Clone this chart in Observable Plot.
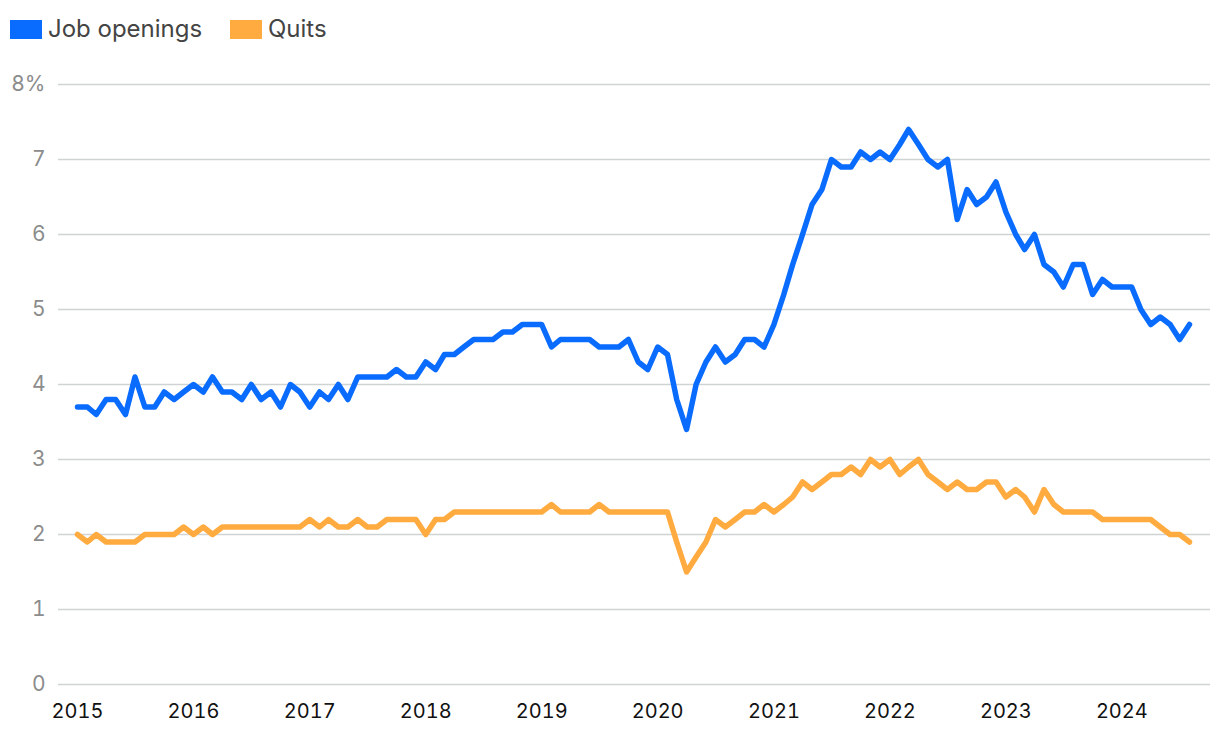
<!DOCTYPE html>
<html>
<head>
<meta charset="utf-8">
<script src="https://cdn.jsdelivr.net/npm/d3@7"></script>
<script src="https://cdn.jsdelivr.net/npm/@observablehq/plot@0.6"></script>
<style>
  html, body { margin: 0; padding: 0; background: #fff; }
  body { width: 1220px; height: 734px; overflow: hidden; font-family: Inter, "Noto Sans", sans-serif; }
  #legend { position: relative; height: 60px; }
  .item { position: absolute; top: 0; display: flex; align-items: flex-start; height: 60px; }
  .sw { width: 32px; height: 19px; margin-right: 6px; margin-top: 20px; }
  .lab { font-size: 24px; color: #444; margin-top: 14px; }
</style>
</head>
<body>
<div id="legend"></div>
<div id="chart"></div>
<script>
const startYear = 2015;
const startMonth = 0;
const jobOpenings = [
  3.7,3.7,3.6,3.8,3.8,3.6,4.1,3.7,3.7,3.9,3.8,3.9,
  4.0,3.9,4.1,3.9,3.9,3.8,4.0,3.8,3.9,3.7,4.0,3.9,
  3.7,3.9,3.8,4.0,3.8,4.1,4.1,4.1,4.1,4.2,4.1,4.1,
  4.3,4.2,4.4,4.4,4.5,4.6,4.6,4.6,4.7,4.7,4.8,4.8,
  4.8,4.5,4.6,4.6,4.6,4.6,4.5,4.5,4.5,4.6,4.3,4.2,
  4.5,4.4,3.8,3.4,4.0,4.3,4.5,4.3,4.4,4.6,4.6,4.5,
  4.8,5.2,5.6,6.0,6.4,6.6,7.0,6.9,6.9,7.1,7.0,7.1,
  7.0,7.2,7.4,7.2,7.0,6.9,7.0,6.2,6.6,6.4,6.5,6.7,
  6.3,6.0,5.8,6.0,5.6,5.5,5.3,5.6,5.6,5.2,5.4,5.3,
  5.3,5.3,5.0,4.8,4.9,4.8,4.6,4.8
];
const quits = [
  2.0,1.9,2.0,1.9,1.9,1.9,1.9,2.0,2.0,2.0,2.0,2.1,
  2.0,2.1,2.0,2.1,2.1,2.1,2.1,2.1,2.1,2.1,2.1,2.1,
  2.2,2.1,2.2,2.1,2.1,2.2,2.1,2.1,2.2,2.2,2.2,2.2,
  2.0,2.2,2.2,2.3,2.3,2.3,2.3,2.3,2.3,2.3,2.3,2.3,
  2.3,2.4,2.3,2.3,2.3,2.3,2.4,2.3,2.3,2.3,2.3,2.3,
  2.3,2.3,1.9,1.5,1.7,1.9,2.2,2.1,2.2,2.3,2.3,2.4,
  2.3,2.4,2.5,2.7,2.6,2.7,2.8,2.8,2.9,2.8,3.0,2.9,
  3.0,2.8,2.9,3.0,2.8,2.7,2.6,2.7,2.6,2.6,2.7,2.7,
  2.5,2.6,2.5,2.3,2.6,2.4,2.3,2.3,2.3,2.3,2.2,2.2,
  2.2,2.2,2.2,2.2,2.1,2.0,2.0,1.9
];
const seriesNames = ["Job openings", "Quits"];
const seriesColors = ["#0a6cff", "#ffab40"];
const yTicks = [0,1,2,3,4,5,6,7,8];
const yTickLabels = ["0","1","2","3","4","5","6","7","8%"];
const xTickYears = [2015,2016,2017,2018,2019,2020,2021,2022,2023,2024];

const monthDate = i => new Date(Date.UTC(startYear, startMonth + i, 1));
const rows = [];
jobOpenings.forEach((v, i) => rows.push({date: monthDate(i), value: v, series: seriesNames[0]}));
quits.forEach((v, i) => rows.push({date: monthDate(i), value: v, series: seriesNames[1]}));
const xTicks = xTickYears.map(y => new Date(Date.UTC(y, 0, 1)));

// legend
const legend = document.getElementById("legend");
const legendX = [10, 230];
seriesNames.forEach((name, k) => {
  const it = document.createElement("div");
  it.className = "item";
  it.style.left = legendX[k] + "px";
  it.innerHTML = `<div class="sw" style="background:${seriesColors[k]}"></div><div class="lab">${name}</div>`;
  legend.appendChild(it);
});

const chart = Plot.plot({
  width: 1220,
  height: 674,
  marginLeft: 58,
  marginRight: 10,
  marginTop: 24,
  marginBottom: 50,
  style: {fontFamily: "Inter, 'Noto Sans', sans-serif", background: "#fff"},
  x: {type: "utc", domain: [monthDate(0), monthDate(jobOpenings.length - 1)], range: [77, 1189]},
  y: {domain: [0, 8]},
  color: {domain: seriesNames, range: seriesColors},
  marks: [
    Plot.ruleY(yTicks, {stroke: "#d0d3d3", strokeWidth: 1.7}),
    Plot.axisY({ticks: yTicks, tickFormat: d => yTickLabels[yTicks.indexOf(d)], tickSize: 0, tickPadding: 13, fontSize: 21, color: "#8c8c8c", label: null}),
    Plot.axisX({ticks: xTicks, tickFormat: d3.utcFormat("%Y"), tickSize: 0, tickPadding: 19, fontSize: 20, color: "#111", label: null}),
    Plot.line(rows, {x: "date", y: "value", z: "series", stroke: "series", strokeWidth: 5.5, strokeLinejoin: "round", strokeLinecap: "round"})
  ]
});
document.getElementById("chart").appendChild(chart);
</script>
</body>
</html>
